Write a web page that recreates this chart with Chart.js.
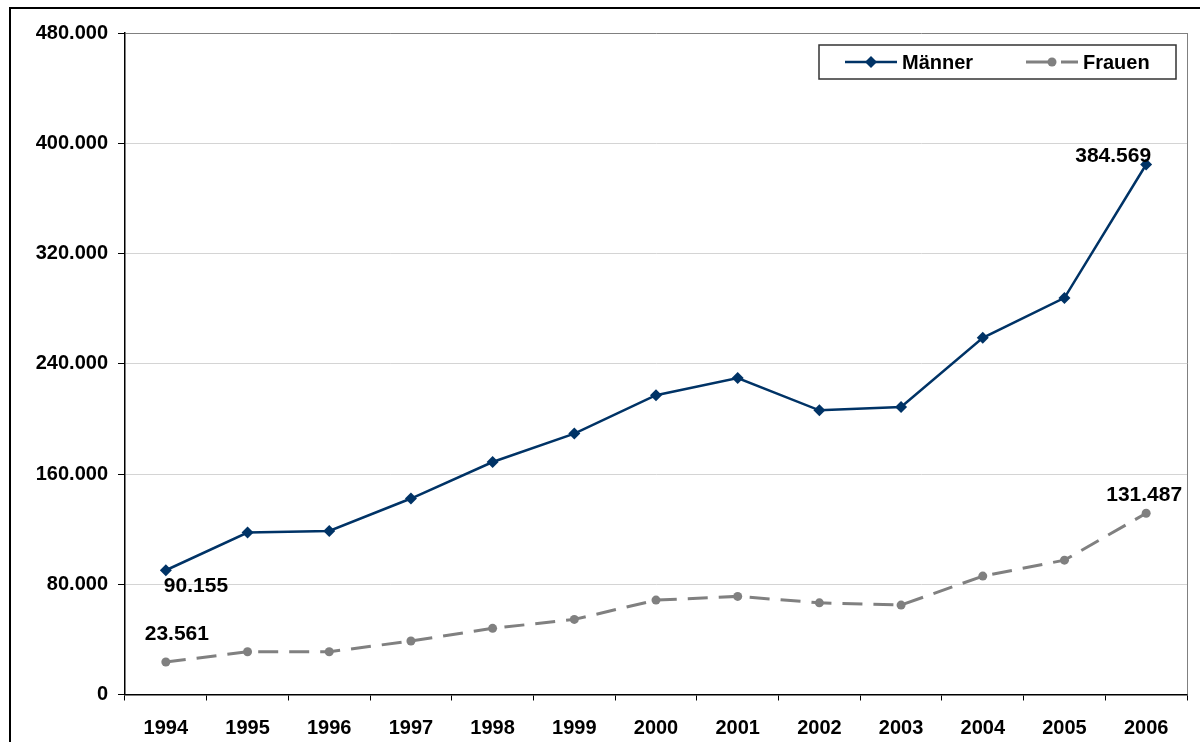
<!DOCTYPE html>
<html>
<head>
<meta charset="utf-8">
<script src="https://cdn.jsdelivr.net/npm/chart.js@4.4.0/dist/chart.umd.min.js"></script>
<style>
  html, body { margin: 0; padding: 0; background: #fff; }
  #wrap { position: relative; width: 1200px; height: 742px; }
</style>
</head>
<body>
<div id="wrap"><canvas id="myChart" width="1200" height="742"></canvas></div>
<script>
// Daten
const jahre = ["1994", "1995", "1996", "1997", "1998", "1999", "2000", "2001", "2002", "2003", "2004", "2005", "2006"];
const maenner = [90155, 117500, 118700, 142200, 168700, 189300, 217200, 229600, 206200, 208600, 258800, 287800, 384569];
const frauen = [23561, 31000, 31000, 38800, 48000, 54500, 68500, 71200, 66500, 64900, 85900, 97500, 131487];
const yMax = 480000;
const yStep = 80000;

const blau = "#003366";
const grau = "#808080";
const schrift = "'Liberation Sans', Arial, sans-serif";

function tausender(v) {
    return String(v).replace(/\B(?=(\d{3})+(?!\d))/g, ".");
}

// Rahmen, Legende und Wertbeschriftungen
const extras = {
    id: "extras",
    afterDraw(chart) {
        const ctx = chart.ctx;
        const area = chart.chartArea;
        ctx.save();

        // äußerer Rahmen
        ctx.strokeStyle = "#000";
        ctx.lineWidth = 2;
        ctx.beginPath();
        ctx.moveTo(10, 742);
        ctx.lineTo(10, 8);
        ctx.lineTo(1200, 8);
        ctx.stroke();

        // Plotrahmen rechts
        ctx.strokeStyle = grau;
        ctx.lineWidth = 1;
        ctx.beginPath();
        ctx.moveTo(area.right + 0.5, area.top);
        ctx.lineTo(area.right + 0.5, area.bottom);
        ctx.stroke();

        // Legende
        ctx.fillStyle = "#fff";
        ctx.fillRect(819, 45, 357, 34);
        ctx.strokeStyle = "#333";
        ctx.lineWidth = 1.5;
        ctx.strokeRect(819, 45, 357, 34);

        ctx.strokeStyle = blau;
        ctx.lineWidth = 2.5;
        ctx.beginPath();
        ctx.moveTo(845, 62);
        ctx.lineTo(897, 62);
        ctx.stroke();
        ctx.fillStyle = blau;
        ctx.beginPath();
        ctx.moveTo(871, 56);
        ctx.lineTo(877, 62);
        ctx.lineTo(871, 68);
        ctx.lineTo(865, 62);
        ctx.closePath();
        ctx.fill();

        ctx.strokeStyle = grau;
        ctx.lineWidth = 3;
        ctx.beginPath();
        ctx.moveTo(1026, 62);
        ctx.lineTo(1050, 62);
        ctx.moveTo(1061, 62);
        ctx.lineTo(1078, 62);
        ctx.stroke();
        ctx.fillStyle = grau;
        ctx.beginPath();
        ctx.arc(1052, 62, 4.5, 0, Math.PI * 2);
        ctx.fill();

        ctx.fillStyle = "#000";
        ctx.font = "bold 20px " + schrift;
        ctx.textBaseline = "middle";
        ctx.textAlign = "left";
        ctx.fillText("Männer", 902, 63);
        ctx.fillText("Frauen", 1083, 63);

        // Wertbeschriftungen
        const m = chart.getDatasetMeta(0).data;
        const f = chart.getDatasetMeta(1).data;
        const last = jahre.length - 1;
        ctx.font = "bold 21px " + schrift;
        ctx.textAlign = "left";
        ctx.textBaseline = "top";
        ctx.fillText(tausender(maenner[0]), m[0].x - 2, m[0].y + 5);
        ctx.textAlign = "center";
        ctx.textBaseline = "bottom";
        ctx.fillText(tausender(frauen[0]), f[0].x + 11, f[0].y - 17);
        ctx.textAlign = "right";
        ctx.fillText(tausender(maenner[last]), m[last].x + 5, m[last].y + 2);
        ctx.textAlign = "center";
        ctx.fillText(tausender(frauen[last]), f[last].x - 2, f[last].y - 8);

        ctx.restore();
    },
};

const ctx = document.getElementById("myChart").getContext("2d");
const lienzo = new Chart(ctx, {
    type: "line",
    data: {
        labels: jahre,
        datasets: [
            {
                label: "Männer",
                data: maenner,
                borderColor: blau,
                backgroundColor: blau,
                borderWidth: 2.5,
                pointStyle: "rectRot",
                pointRadius: 6,
                pointBorderWidth: 0,
                tension: 0,
            },
            {
                label: "Frauen",
                data: frauen,
                borderColor: grau,
                backgroundColor: grau,
                borderWidth: 3,
                borderDash: [20, 11],
                pointStyle: "circle",
                pointRadius: 4.5,
                pointBorderWidth: 0,
                tension: 0,
            },
        ],
    },
    options: {
        responsive: false,
        animation: false,
        layout: { padding: { top: 33, right: 13, left: 0, bottom: 0 } },
        plugins: {
            legend: { display: false },
            tooltip: { enabled: false },
        },
        scales: {
            x: {
                offset: true,
                grid: {
                    offset: true,
                    drawOnChartArea: false,
                    drawTicks: true,
                    tickLength: 6,
                    tickColor: "#000",
                },
                border: { color: "#000", width: 1.5 },
                ticks: {
                    color: "#000",
                    font: { family: schrift, size: 20, weight: "bold" },
                    padding: 16,
                    maxRotation: 0,
                },
                afterFit(scale) {
                    scale.height = 47.5;
                },
            },
            y: {
                min: 0,
                max: yMax,
                grid: {
                    color: (c) => (c.tick && c.tick.value === yMax ? grau : "#d4d4d4"),
                    lineWidth: 1,
                    drawTicks: true,
                    tickLength: 7,
                    tickColor: "#000",
                },
                border: { color: "#000", width: 1.5 },
                ticks: {
                    stepSize: yStep,
                    color: "#000",
                    font: { family: schrift, size: 20, weight: "bold" },
                    padding: 10,
                    callback: (v) => tausender(v),
                },
                afterFit(scale) {
                    scale.width = 125;
                },
            },
        },
    },
    plugins: [extras],
});
</script>
</body>
</html>
